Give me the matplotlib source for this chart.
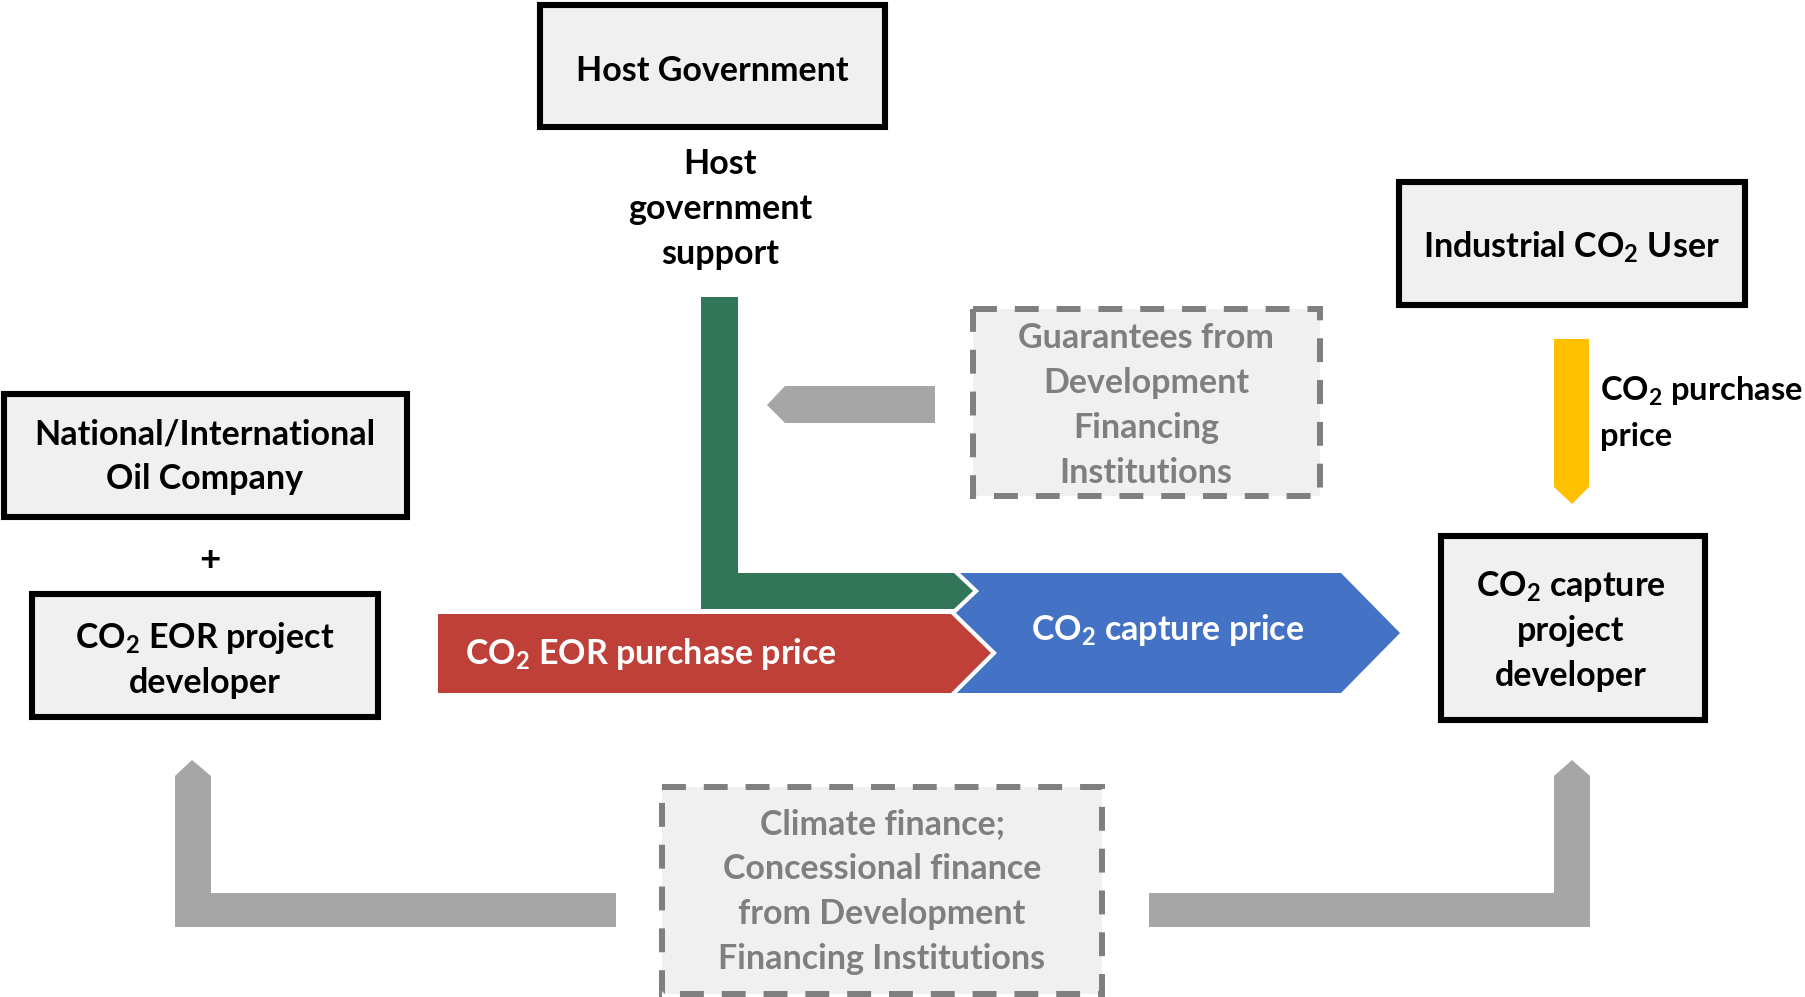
import matplotlib
matplotlib.use("Agg")
import matplotlib.pyplot as plt
from matplotlib.patches import Polygon, Rectangle

plt.rcParams['font.family'] = ['Lato', 'DejaVu Sans']
plt.rcParams['font.weight'] = 'bold'
plt.rcParams['mathtext.fontset'] = 'custom'
plt.rcParams['mathtext.rm'] = 'Lato:bold'
plt.rcParams['mathtext.default'] = 'rm'

# labels of the diagram
host_box = ["Host Government"]
host_support = ["Host", "government", "support"]
oil_box = ["National/International", "Oil Company"]
eor_box = ["CO$_2$ EOR project", "developer"]
industrial_box = ["Industrial CO$_2$ User"]
capture_box = ["CO$_2$ capture", "project", "developer"]
guarantee_box = ["Guarantees from", "Development", "Financing", "Institutions"]
climate_box = ["Climate finance;", "Concessional finance", "from Development", "Financing Institutions"]
yellow_label = ["CO$_2$ purchase", "price"]
red_label = "CO$_2$ EOR purchase price"
blue_label = "CO$_2$ capture price"

GREEN = "#327559"
RED = "#BF4039"
BLUE = "#4472C4"
YELLOW = "#FFC000"
GREY = "#A6A6A6"
FILL = "#F0F0F0"
DASH = "#7F7F7F"
FS = 24.5
STEP = 45

fig = plt.figure(figsize=(18.06, 9.97), dpi=100)
ax = fig.add_axes([0, 0, 1, 1])
ax.set_xlim(0, 1806)
ax.set_ylim(997, 0)
ax.axis('off')


def solid_box(x0, y0, x1, y1):
    ax.add_patch(Rectangle((x0, y0), x1 - x0, y1 - y0, facecolor=FILL,
                           edgecolor='black', lw=4.4, joinstyle='miter', zorder=2))


def dashed_box(x0, y0, x1, y1):
    ax.add_patch(Rectangle((x0, y0), x1 - x0, y1 - y0, facecolor=FILL,
                           edgecolor=DASH, lw=4.3, linestyle=(0, (4.0, 3.0)),
                           zorder=2))


def lines(txt, x, base, ha='center', color='black', size=FS):
    for i, t in enumerate(txt):
        ax.text(x, base + i * STEP, t, ha=ha, va='baseline', color=color,
                fontsize=size, fontweight='bold', zorder=5)


def shape(pts, color, halo=False, z=3):
    if halo:
        ax.add_patch(Polygon(pts, closed=True, facecolor='white', edgecolor='white',
                             lw=6, joinstyle='miter', zorder=z))
    ax.add_patch(Polygon(pts, closed=True, facecolor=color, edgecolor='none', zorder=z + 0.1))


# boxes
solid_box(540, 5, 885, 127)
solid_box(4, 394, 407, 517)
solid_box(32, 594, 378, 717)
solid_box(1399, 182, 1745, 305)
solid_box(1441, 536, 1705, 720)
dashed_box(973, 309, 1320, 496)
dashed_box(662, 787, 1102, 994)

# arrows
shape([(955, 573), (1341, 573), (1400, 633), (1341, 693), (955, 693)], BLUE, z=3)
shape([(438, 614), (951, 614), (991, 653), (951, 693), (438, 693)], RED, halo=True, z=4)
shape([(701, 297), (738, 297), (738, 573), (954, 573), (973, 591), (954, 609), (701, 609)],
      GREEN, halo=True, z=4.5)
shape([(935, 386), (785, 386), (767, 405), (785, 423), (935, 423)], GREY)
shape([(175, 776), (192, 760), (211, 776), (211, 893), (616, 893), (616, 927), (175, 927)], GREY)
shape([(1149, 893), (1554, 893), (1554, 776), (1572, 760), (1590, 776), (1590, 927), (1149, 927)], GREY)
shape([(1554, 339), (1589, 339), (1589, 487), (1572, 504), (1554, 487)], YELLOW)

# text
lines(host_box, 712, 81)
lines(host_support, 720, 174)
lines(oil_box, 205, 444)
ax.text(210, 560, "+", ha='center', va='center', fontsize=FS + 2, fontweight='bold', zorder=5)
lines(eor_box, 205, 648)
lines(industrial_box, 1571, 258)
lines(capture_box, 1571, 596)
lines(guarantee_box, 1146, 348, color=DASH)
lines(climate_box, 882, 834, color=DASH)
lines(yellow_label, 1600, 401, ha='left', size=FS - 1)
lines([red_label], 465, 664, ha='left', color='white')
lines([blue_label], 1168, 640, color='white')

fig.savefig('out.png', dpi=100)
